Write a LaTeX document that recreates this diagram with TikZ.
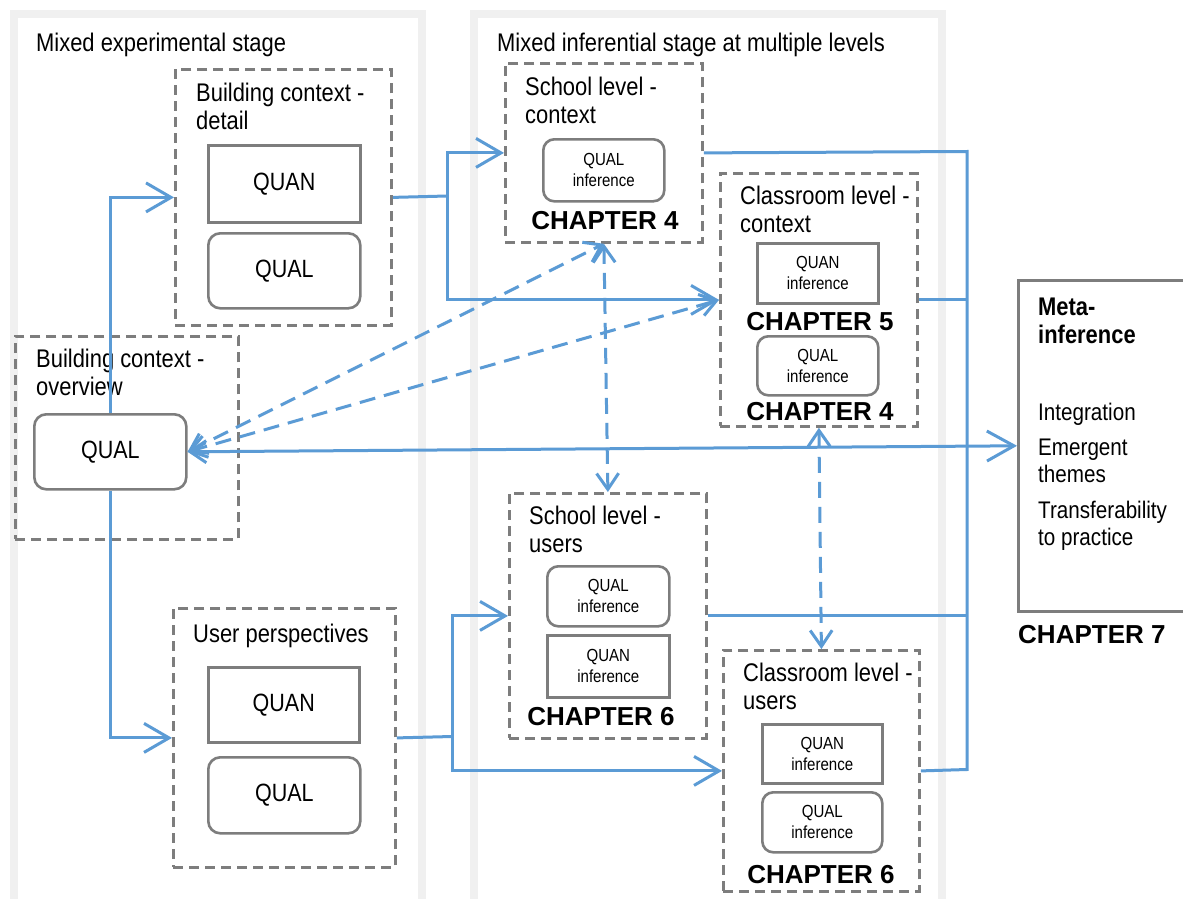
\documentclass[tikz,border=0pt]{standalone}
\usepackage{fontspec}
\setmainfont{Liberation Sans}[FakeStretch=0.86]
\newfontfamily\chapfont{Liberation Sans}
\usetikzlibrary{arrows.meta}
\definecolor{flowblue}{RGB}{91,155,213}
\definecolor{framegray}{RGB}{125,125,125}
\definecolor{panelgray}{RGB}{240,240,240}

\begin{document}
\begin{tikzpicture}[x=1pt,y=-1pt,
  panel/.style={draw=panelgray,line width=8pt},
  groupbox/.style={draw=framegray,line width=2.8pt,dash pattern=on 10pt off 6pt,
    anchor=north west,inner sep=0pt},
  methodbox/.style={draw=framegray,line width=2.6pt,fill=white,anchor=north west,
    inner sep=0pt,align=center,font={\fontsize{25}{27}\selectfont}},
  methodround/.style={methodbox,rounded corners=12pt},
  inferbox/.style={methodbox,font={\fontsize{17.5}{21}\selectfont}},
  inferround/.style={inferbox,rounded corners=11pt},
  % multi-line titles are placed by the baseline of their last line
  title/.style={anchor=base west,inner sep=0pt,align=left,
    font={\fontsize{25.5}{27.5}\selectfont}},
  chapter/.style={anchor=base,inner sep=0pt,font={\chapfont\bfseries\fontsize{26}{28}\selectfont}},
  flow/.style={draw=flowblue,line width=3pt},
  bigtip/.style={-{Straight Barb[length=25pt,width=29pt]}},
  link/.style={flow,dash pattern=on 16pt off 9pt,
    {Straight Barb[length=16pt,width=22pt]}-{Straight Barb[length=16pt,width=22pt]}}
]
\useasboundingbox (0,0) rectangle (1183,899);
\fill[white] (0,0) rectangle (1183,899);

% the two stage panels
\draw[panel] (13.5,14) rectangle (421.5,910);
\draw[panel] (474,14) rectangle (942,910);

% ---------- mixed experimental stage ----------
\node[title] (stageA) at (36,52) {Mixed experimental stage};

\node[groupbox,minimum width=216pt,minimum height=256pt] (detail) at (174,68) {};
\node[title] (detailT) at (196,129) {Building context -\\detail};
\node[methodbox,minimum width=152pt,minimum height=77pt] (detailQuan) at (207,144) {QUAN};
\node[methodround,minimum width=152pt,minimum height=75pt] (detailQual) at (207,232) {QUAL};

\node[groupbox,minimum width=223pt,minimum height=203pt] (overview) at (14,335) {};
\node[title] (overviewT) at (36,395) {Building context -\\overview};
\node[methodround,minimum width=152pt,minimum height=75pt] (overviewQual) at (33,413) {QUAL};

\node[groupbox,minimum width=222pt,minimum height=259pt] (users) at (172,607) {};
\node[title] (usersT) at (193,642) {User perspectives};
\node[methodbox,minimum width=151pt,minimum height=75pt] (usersQuan) at (207,666) {QUAN};
\node[methodround,minimum width=152pt,minimum height=76pt] (usersQual) at (207,756) {QUAL};

% ---------- mixed inferential stage ----------
\node[title] (stageB) at (497,52) {Mixed inferential stage at multiple levels};

\node[groupbox,minimum width=197pt,minimum height=179pt] (schoolCtx) at (504,62) {};
\node[title] (schoolCtxT) at (525,123) {School level -\\context};
\node[inferround,minimum width=121pt,minimum height=62pt] (schoolCtxQual) at (542,138) {QUAL\\inference};
\node[chapter] (schoolCtxCh) at (605,229) {CHAPTER 4};

\node[groupbox,minimum width=197pt,minimum height=253pt] (classCtx) at (719,172) {};
\node[title] (classCtxT) at (740,232) {Classroom level -\\context};
\node[inferbox,minimum width=121pt,minimum height=60pt] (classCtxQuan) at (756,242) {QUAN\\inference};
\node[chapter] (classCtxChA) at (820,330) {CHAPTER 5};
\node[inferround,minimum width=121pt,minimum height=59pt] (classCtxQual) at (756,335) {QUAL\\inference};
\node[chapter] (classCtxChB) at (820,420) {CHAPTER 4};

\node[groupbox,minimum width=197pt,minimum height=245pt] (schoolUsr) at (508,492) {};
\node[title] (schoolUsrT) at (529,552) {School level -\\users};
\node[inferround,minimum width=122pt,minimum height=60pt] (schoolUsrQual) at (546,565) {QUAL\\inference};
\node[inferbox,minimum width=122pt,minimum height=62pt] (schoolUsrQuan) at (546,634) {QUAN\\inference};
\node[chapter] (schoolUsrCh) at (601,725) {CHAPTER 6};

\node[groupbox,minimum width=196pt,minimum height=241pt] (classUsr) at (722,649) {};
\node[title] (classUsrT) at (743,709) {Classroom level -\\users};
\node[inferbox,minimum width=120pt,minimum height=59pt] (classUsrQuan) at (761,723) {QUAN\\inference};
\node[inferround,minimum width=120pt,minimum height=60pt] (classUsrQual) at (761,791) {QUAL\\inference};
\node[chapter] (classUsrCh) at (821,883) {CHAPTER 6};

% ---------- meta-inference ----------
\node[draw=framegray,line width=2.6pt,anchor=north west,inner sep=0pt,
  minimum width=190pt,minimum height=331pt] (meta) at (1017,279) {};
\node[title,font={\bfseries\fontsize{25.5}{28}\selectfont}] (metaT) at (1038,343) {Meta-\\inference};
\node[title,font={\fontsize{24}{27}\selectfont}] (metaA) at (1038,420) {Integration};
\node[title,font={\fontsize{24}{27}\selectfont}] (metaB) at (1038,482) {Emergent\\themes};
\node[title,font={\fontsize{24}{27}\selectfont}] (metaC) at (1038,545) {Transferability\\to practice};
\node[chapter,anchor=base west] (metaCh) at (1018,643) {CHAPTER 7};

% ---------- solid flows ----------
\draw[flow,bigtip] (overviewQual.north) |- (detail.west);
\draw[flow,bigtip] (overviewQual.south) |- (users.west);

\coordinate (splitA) at (447,196);
\draw[flow] (detail.east) -- (splitA);
\draw[flow,bigtip] (splitA) |- (schoolCtx.west);
\draw[flow,bigtip] (splitA) |- (classCtx.west);

\coordinate (splitB) at (452,736.5);
\draw[flow] (users.east) -- (splitB);
\draw[flow,bigtip] (splitB) |- (schoolUsr.west);
\draw[flow,bigtip] (splitB) |- (classUsr.west);

% collector towards the meta-inference
\coordinate (busTop) at (967,151.5);
\coordinate (busBot) at (967,769.5);
\draw[flow] (schoolCtx.east) -- (busTop) -- (busBot) -- (classUsr.east);
\draw[flow] (classCtx.east) -- (classCtx.east -| busTop);
\draw[flow] (schoolUsr.east) -- (schoolUsr.east -| busTop);

\draw[flow,{Straight Barb[length=16pt,width=22pt]}-{Straight Barb[length=27pt,width=30pt]}]
  (overviewQual.east) -- (meta.west);

% ---------- dashed two-way links ----------
\draw[link] (overviewQual.east) -- (schoolCtx.south);
\draw[link] (overviewQual.east) -- (classCtx.west);
\draw[link] (schoolCtx.south) -- (schoolUsr.north);
\draw[link] (classCtx.south) -- (classUsr.north);
\end{tikzpicture}
\end{document}
